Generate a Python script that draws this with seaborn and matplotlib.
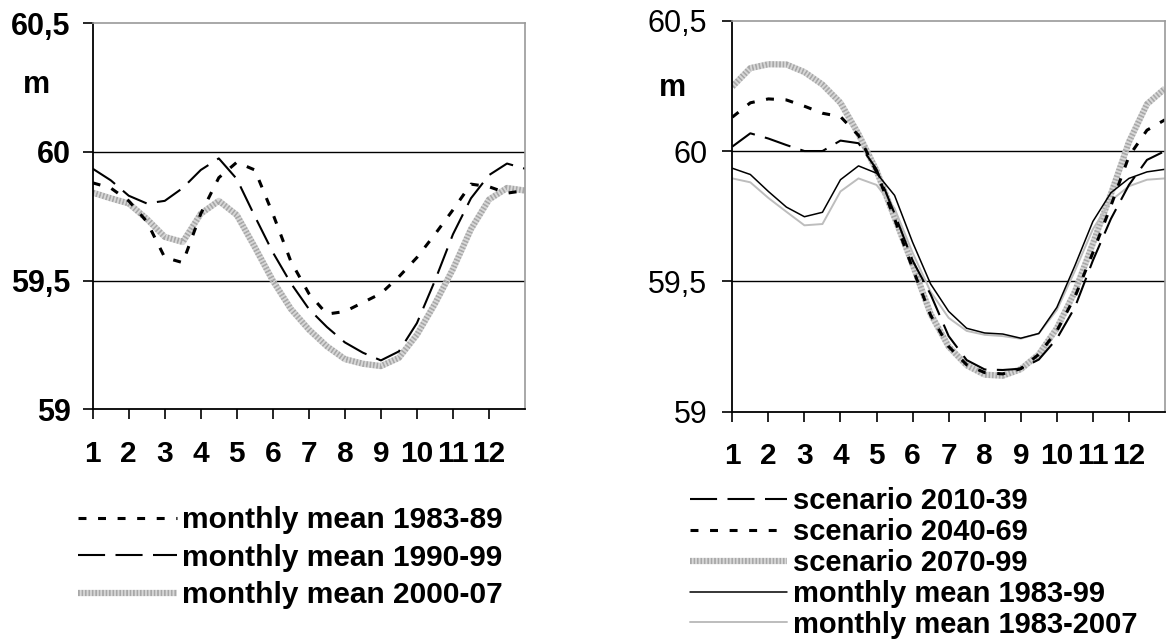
import matplotlib
matplotlib.use("Agg")
import matplotlib.pyplot as plt
import numpy as np
import pandas as pd
import seaborn as sb


# water level (m), every half month, 13 = January again
months = [1.0, 1.5, 2.0, 2.5, 3.0, 3.5, 4.0, 4.5, 5.0, 5.5, 6.0, 6.5, 7.0,
          7.5, 8.0, 8.5, 9.0, 9.5, 10.0, 10.5, 11.0, 11.5, 12.0, 12.5, 13.0]
month_ticks = [1, 2, 3, 4, 5, 6, 7, 8, 9, 10, 11, 12]
y_ticks = [59.0, 59.5, 60.0, 60.5]
y_tick_labels = ["59", "59,5", "60", "60,5"]

# left panel: observed periods
mean_1983_89 = [59.88, 59.86, 59.81, 59.73, 59.59, 59.57, 59.76, 59.90, 59.96,
                59.93, 59.76, 59.575, 59.45, 59.37, 59.38, 59.415, 59.45,
                59.515, 59.59, 59.68, 59.775, 59.875, 59.865, 59.84, 59.85]
mean_1990_99 = [59.935, 59.89, 59.83, 59.80, 59.81, 59.86, 59.93, 59.975,
                59.895, 59.75, 59.61, 59.49, 59.39, 59.32, 59.26, 59.22, 59.19,
                59.225, 59.335, 59.50, 59.68, 59.82, 59.91, 59.955, 59.935]
mean_2000_07 = [59.842, 59.82, 59.80, 59.74, 59.67, 59.65, 59.76, 59.81,
                59.755, 59.63, 59.50, 59.39, 59.31, 59.245, 59.195, 59.177,
                59.168, 59.20, 59.29, 59.41, 59.545, 59.70, 59.815, 59.86, 59.85]

# right panel: scenarios and reference means
scen_2010_39 = [60.017, 60.068, 60.048, 60.023, 60.0, 60.0, 60.04, 60.03,
                59.93, 59.76, 59.58, 59.45, 59.29, 59.198, 59.162, 59.16,
                59.165, 59.20, 59.28, 59.40, 59.58, 59.74, 59.87, 59.966, 60.0]
scen_2040_69 = [60.13, 60.185, 60.20, 60.196, 60.172, 60.145, 60.132, 60.06,
                59.92, 59.74, 59.55, 59.37, 59.25, 59.18, 59.15, 59.145, 59.165,
                59.22, 59.31, 59.44, 59.61, 59.79, 59.98, 60.08, 60.12]
scen_2070_99 = [60.247, 60.318, 60.333, 60.332, 60.303, 60.255, 60.185, 60.065,
                59.925, 59.745, 59.565, 59.375, 59.25, 59.178, 59.142, 59.138,
                59.163, 59.22, 59.32, 59.46, 59.645, 59.835, 60.035, 60.18, 60.24]
mean_1983_99 = [59.934, 59.91, 59.845, 59.785, 59.748, 59.765, 59.89, 59.943,
                59.915, 59.83, 59.65, 59.49, 59.385, 59.32, 59.302, 59.298,
                59.282, 59.30, 59.40, 59.56, 59.73, 59.84, 59.895, 59.92, 59.93]
mean_1983_2007 = [59.895, 59.88, 59.82, 59.767, 59.715, 59.72, 59.845, 59.895,
                  59.87, 59.78, 59.61, 59.46, 59.36, 59.31, 59.295, 59.29, 59.28,
                  59.30, 59.39, 59.54, 59.70, 59.81, 59.865, 59.89, 59.895]

# line looks
SHORT_DASH = dict(color="black", linewidth=2.2, linestyle=(0, (2.6, 3.8)),
                  solid_joinstyle="round")
LONG_DASH = dict(color="black", linewidth=1.5, linestyle=(0, (13, 5)),
                 solid_joinstyle="round")
THICK_GREY = dict(color="#a8a8a8", linewidth=4.5, linestyle=(0, (0.3, 0.25)),
                  gapcolor="#d8d8d8")
THIN_BLACK = dict(color="black", linewidth=1.1, solid_joinstyle="round")
THIN_GREY = dict(color="#bdbdbd", linewidth=1.4, solid_joinstyle="round")

sb.set_theme(style="white")
plt.rcParams["font.family"] = ["Liberation Sans", "DejaVu Sans"]
plt.rcParams["text.color"] = "black"

W, H = 1166, 639


def draw_line(ax, values, label, style):
    sb.lineplot(x=months, y=values, ax=ax, label=label, estimator=None,
                sort=False, **style)


def style_axes(ax, bold_y, ypad):
    ax.set_xlim(1, 13)
    ax.set_ylim(59, 60.5)
    ax.set_xticks(month_ticks)
    ax.set_xticklabels([str(m) for m in month_ticks], fontsize=21.5, fontweight="bold")
    ax.set_yticks(y_ticks)
    ax.set_yticklabels(y_tick_labels, fontsize=22,
                       fontweight="bold" if bold_y else "normal")
    for v in y_ticks[1:-1]:
        ax.axhline(v, color="black", linewidth=1.0, zorder=1)
    for side in ["left", "bottom"]:
        ax.spines[side].set_color("black")
        ax.spines[side].set_linewidth(1.3)
    for side in ["top", "right"]:
        ax.spines[side].set_color("#9a9a9a")
        ax.spines[side].set_linewidth(1.2)
    ax.tick_params(axis="x", bottom=True, direction="out", length=7, width=1.2,
                   pad=15, colors="black")
    ax.tick_params(axis="y", left=True, direction="out", length=7, width=1.2,
                   pad=ypad, colors="black")
    ax.set_xlabel("")
    ax.set_ylabel("")


fig = plt.figure(figsize=(W / 100, H / 100), dpi=100)
ax_l = fig.add_axes([92.7 / W, 1 - 409.3 / H, (525 - 92.7) / W, (409.3 - 23.3) / H])
ax_r = fig.add_axes([732.3 / W, 1 - 411.7 / H, (1165 - 732.3) / W, (411.7 - 20.7) / H])

draw_line(ax_l, mean_2000_07, "monthly mean 2000-07", THICK_GREY)
draw_line(ax_l, mean_1990_99, "monthly mean 1990-99", LONG_DASH)
draw_line(ax_l, mean_1983_89, "monthly mean 1983-89", SHORT_DASH)

draw_line(ax_r, scen_2070_99, "scenario 2070-99", THICK_GREY)
draw_line(ax_r, mean_1983_2007, "monthly mean 1983-2007", THIN_GREY)
draw_line(ax_r, mean_1983_99, "monthly mean 1983-99", THIN_BLACK)
draw_line(ax_r, scen_2040_69, "scenario 2040-69", SHORT_DASH)
draw_line(ax_r, scen_2010_39, "scenario 2010-39", LONG_DASH)

style_axes(ax_l, True, 9)
style_axes(ax_r, False, 11)

fig.text(36 / W, 1 - 85 / H, "m", fontsize=22, fontweight="bold", ha="center", va="center")
fig.text(672 / W, 1 - 88 / H, "m", fontsize=22, fontweight="bold", ha="center", va="center")

# legends in the original order
h_l, l_l = ax_l.get_legend_handles_labels()
order_l = ["monthly mean 1983-89", "monthly mean 1990-99", "monthly mean 2000-07"]
ax_l.legend([h_l[l_l.index(n)] for n in order_l], order_l, loc="upper left",
            bbox_to_anchor=(78 / W, 1 - 506 / H), bbox_transform=fig.transFigure,
            frameon=False, prop={"weight": "bold", "size": 21.5}, handlelength=3.3,
            handletextpad=0.17, labelspacing=0.32, borderpad=0, borderaxespad=0)

h_r, l_r = ax_r.get_legend_handles_labels()
order_r = ["scenario 2010-39", "scenario 2040-69", "scenario 2070-99",
           "monthly mean 1983-99", "monthly mean 1983-2007"]
ax_r.legend([h_r[l_r.index(n)] for n in order_r], order_r, loc="upper left",
            bbox_to_anchor=(690 / W, 1 - 487 / H), bbox_transform=fig.transFigure,
            frameon=False, prop={"weight": "bold", "size": 21}, handlelength=3.32,
            handletextpad=0.2, labelspacing=0.1, borderpad=0, borderaxespad=0)

fig.savefig("out.png", dpi=100)
